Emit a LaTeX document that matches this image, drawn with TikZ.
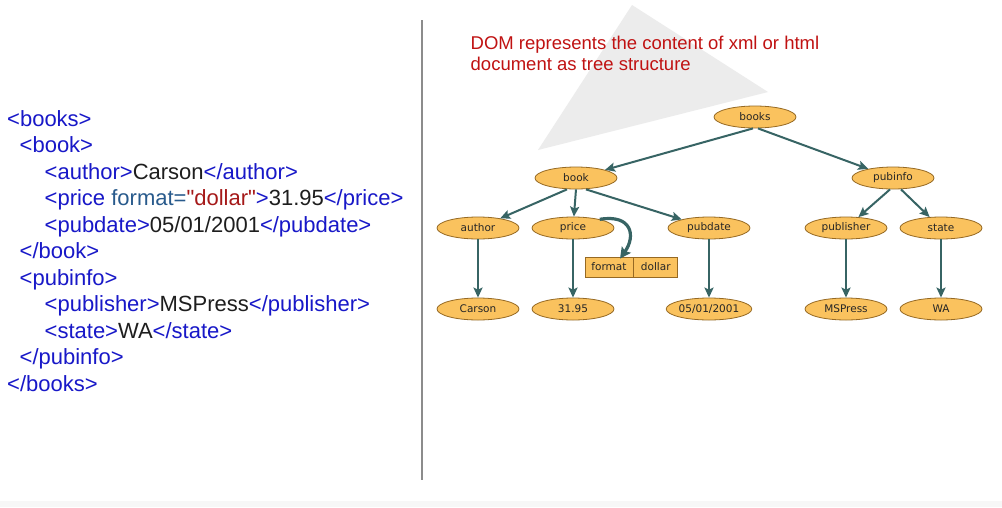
\documentclass[tikz,border=0pt]{standalone}
\usepackage{fontspec}
\setmainfont{Liberation Sans}
\newfontfamily\codefont{Liberation Sans}
\newfontfamily\nodefont{DejaVu Sans}
\usetikzlibrary{shapes.geometric,arrows.meta}
\definecolor{tagc}{RGB}{24,24,200}
\definecolor{txtc}{RGB}{30,30,30}
\definecolor{attrc}{RGB}{40,90,140}
\definecolor{valc}{RGB}{165,25,25}
\definecolor{redc}{RGB}{192,18,18}
\definecolor{ellfill}{RGB}{250,194,94}
\definecolor{elldraw}{RGB}{150,105,35}
\definecolor{edgec}{RGB}{55,100,100}
\definecolor{trig}{RGB}{236,236,236}
\newcommand{\tg}[1]{\textcolor{tagc}{#1}}
\newcommand{\tx}[1]{\textcolor{txtc}{#1}}
\begin{document}
\begin{tikzpicture}[x=1pt,y=-1pt,
  code/.style={anchor=base west, inner sep=0pt, font=\codefont\fontsize{22}{26}\selectfont},
  tnode/.style={ellipse, draw=elldraw, fill=ellfill, line width=0.8pt, minimum width=82pt, minimum height=22pt, inner sep=0pt, font=\nodefont\fontsize{10.5}{12}\selectfont, text=black!85},
  cell/.style={rectangle, draw=elldraw, fill=ellfill, line width=0.8pt, minimum height=20pt, inner sep=0pt, font=\nodefont\fontsize{10.5}{12}\selectfont, text=black!85},
  edge/.style={draw=edgec, line width=2pt, -{Stealth[length=10pt,width=9pt,inset=2pt]}},
  curv/.style={draw=edgec, line width=3.2pt, -{Stealth[length=11pt,width=11pt,inset=2pt]}}]
\useasboundingbox (0,0) rectangle (1002,507);
\fill[white] (0,0) rectangle (1002,507);
\fill[black!3] (0,501) rectangle (1002,507);
% divider
\draw[gray!90, line width=1.5pt] (422,20) -- (422,480);
% background triangle
\fill[trig] (632,5) -- (768,92) -- (538,150) -- cycle;
% title text
\node[anchor=base west, inner sep=0pt, text=redc, font=\fontsize{18.5}{21}\selectfont] (t1) at (470.5,49.5) {DOM represents the content of xml or html};
\node[anchor=base west, inner sep=0pt, text=redc, font=\fontsize{18.5}{21}\selectfont] (t2) at (470.5,70.5) {document as tree structure};
% xml code
\node[code] (c1) at (7,126) {\tg{<books>}};
\node[code] (c2) at (19.5,152.5) {\tg{<book>}};
\node[code] (c3) at (44.5,179) {\tg{<author>}\tx{Carson}\tg{</author>}};
\node[code] (c4) at (44.5,205.5) {\tg{<price }\textcolor{attrc}{format=}\textcolor{valc}{"dollar"}\tg{>}\tx{31.95}\tg{</price>}};
\node[code] (c5) at (44.5,232) {\tg{<pubdate>}\tx{05/01/2001}\tg{</pubdate>}};
\node[code] (c6) at (19.5,258.5) {\tg{</book>}};
\node[code] (c7) at (19.5,285) {\tg{<pubinfo>}};
\node[code] (c8) at (44.5,311.5) {\tg{<publisher>}\tx{MSPress}\tg{</publisher>}};
\node[code] (c9) at (44.5,338) {\tg{<state>}\tx{WA}\tg{</state>}};
\node[code] (c10) at (19.5,364.5) {\tg{</pubinfo>}};
\node[code] (c11) at (7,391) {\tg{</books>}};
% tree
\node[tnode] (books) at (755,117) {books};
\node[tnode] (book) at (576,178) {book};
\node[tnode] (pubinfo) at (893,178) {pubinfo};
\node[tnode] (author) at (478,228) {author};
\node[tnode] (price) at (573,228) {price};
\node[tnode] (pubdate) at (709,228) {pubdate};
\node[tnode] (publisher) at (846,228) {publisher};
\node[tnode] (state) at (941,228) {state};
\node[tnode] (carson) at (478,309) {Carson};
\node[tnode] (v3195) at (573,309) {31.95};
\node[tnode] (date) at (709,309) {05/01/2001};
\node[tnode] (mspress) at (846,309) {MSPress};
\node[tnode] (wa) at (941,309) {WA};
\node[cell, minimum width=48pt] (fmt) at (609,267) {format};
\node[cell, minimum width=44pt, anchor=west] (dol) at (fmt.east) {dollar};
% edges
\draw[edge] ([xshift=-2pt]books.south) -- (book);
\draw[edge] ([xshift=3pt]books.south) -- (pubinfo);
\draw[edge] ([xshift=-9pt]book.south) -- (author);
\draw[edge] (book.south) -- (price);
\draw[edge] ([xshift=10pt]book.south) -- (pubdate);
\draw[edge] ([xshift=-3pt]pubinfo.south) -- (publisher);
\draw[edge] ([xshift=8pt]pubinfo.south) -- (state);
\draw[edge] (author.south) -- (carson.north);
\draw[edge] (price.south) -- (v3195.north);
\draw[edge] (pubdate.south) -- (date.north);
\draw[edge] (publisher.south) -- (mspress.north);
\draw[edge] (state.south) -- (wa.north);
\coordinate (ftip) at ([xshift=11pt,yshift=-2pt]fmt.north);
\draw[curv] (price.18) .. controls (632,214) and (636,236) .. (ftip);
\end{tikzpicture}
\end{document}
